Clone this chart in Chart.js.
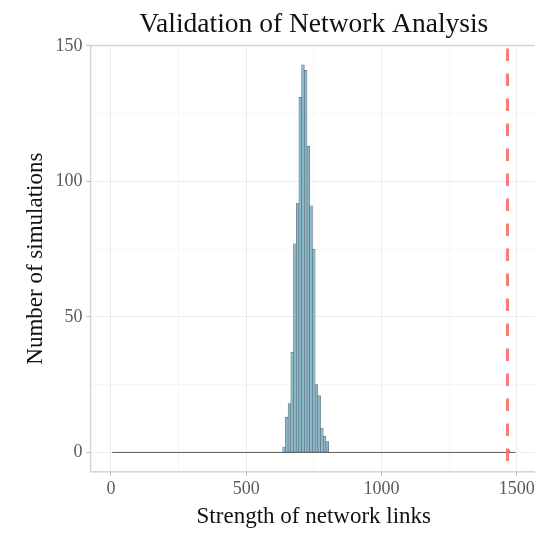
<!DOCTYPE html>
<html>
<head>
<meta charset="utf-8">
<script src="https://cdn.jsdelivr.net/npm/chart.js@4.4.1/dist/chart.umd.min.js"></script>
<style>
  html, body { margin: 0; padding: 0; background: #fff; overflow: hidden; }
  #wrap { width: 535px; height: 533px; overflow: hidden; }
  canvas { display: block; }
</style>
</head>
<body>
<div id="wrap"><canvas id="hist" width="545" height="533"></canvas></div>
<script>
// histogram of simulated link strengths (bin width 10)
const binCenters = [640, 650, 660, 670, 680, 690, 700, 710, 720, 730, 740, 750, 760, 770, 780, 790, 800];
const simCounts = [2, 13, 18, 37, 77, 92, 131, 143, 141, 113, 91, 75, 25, 21, 9, 6, 4];
// the one bin holding the observed network
const observedBin = [1470];
const observedCount = [1];
// empty bins drawn as a flat outline along zero
const emptyRange = [5, 1495];
const observedStrength = 1466;

const xMajor = [0, 500, 1000, 1500];
const xMinor = [250, 750, 1250];
const yMajor = [0, 50, 100, 150];
const yMinor = [25, 75, 125];

const serif = "'Liberation Serif', 'DejaVu Serif', serif";

const histData = binCenters.map((x, i) => ({x: x, y: simCounts[i]}))
    .concat(observedBin.map((x, i) => ({x: x, y: observedCount[i]})));
const zeroLine = emptyRange.map(x => ({x: x, y: 0}));

const toTicks = (major, minor) => major.concat(minor).sort((a, b) => a - b).map(v => ({value: v}));

const panelBorder = {
    id: 'panelBorder',
    beforeDatasetsDraw(chart) {
        const {ctx, chartArea} = chart;
        ctx.save();
        ctx.strokeStyle = '#d4d4d4';
        ctx.lineWidth = 1.5;
        ctx.strokeRect(chartArea.left, chartArea.top, chartArea.right - chartArea.left, chartArea.bottom - chartArea.top);
        ctx.restore();
    }
};

const observedLine = {
    id: 'observedLine',
    afterDatasetsDraw(chart) {
        const {ctx, chartArea} = chart;
        const x = chart.scales.x.getPixelForValue(observedStrength);
        ctx.save();
        ctx.beginPath();
        ctx.rect(chartArea.left, chartArea.top, chartArea.right - chartArea.left, chartArea.bottom - chartArea.top);
        ctx.clip();
        ctx.strokeStyle = 'rgba(248, 110, 105, 0.9)';
        ctx.lineWidth = 3;
        ctx.setLineDash([12.5, 12.5]);
        ctx.lineDashOffset = 22;
        ctx.beginPath();
        ctx.moveTo(x, chartArea.top);
        ctx.lineTo(x, chartArea.bottom);
        ctx.stroke();
        ctx.restore();
    }
};

const ctx = document.getElementById('hist').getContext('2d');
new Chart(ctx, {
    type: 'bar',
    data: {
        datasets: [{
            type: 'line',
            data: zeroLine,
            borderColor: '#5a5a5a',
            borderWidth: 1,
            pointRadius: 0,
            order: 2,
        }, {
            type: 'bar',
            data: histData,
            backgroundColor: '#8cb9ca',
            borderColor: '#5b6b72',
            borderWidth: 0.6,
            borderSkipped: false,
            barPercentage: 1,
            categoryPercentage: 1,
            order: 1,
        }],
    },
    options: {
        responsive: false,
        animation: false,
        layout: {padding: {left: 12, right: 8, top: 0, bottom: 2}},
        plugins: {
            legend: {display: false},
            tooltip: {enabled: false},
            title: {
                display: true,
                text: 'Validation of Network Analysis',
                fullSize: false,
                color: '#111',
                font: {family: serif, size: 27.5, weight: 'normal'},
                padding: {top: 8.5, bottom: 4},
            },
        },
        scales: {
            x: {
                type: 'linear',
                min: -75,
                max: 1575,
                offset: false,
                afterBuildTicks: s => { s.ticks = toTicks(xMajor, xMinor); },
                ticks: {
                    autoSkip: false,
                    maxRotation: 0,
                    padding: 3,
                    color: '#5a5a5a',
                    font: {family: serif, size: 18},
                    callback: v => xMajor.includes(v) ? String(v) : '',
                },
                grid: {
                    offset: false,
                    color: c => xMajor.includes(c.tick.value) ? '#ececec' : '#f6f6f6',
                    tickColor: c => xMajor.includes(c.tick.value) ? '#b3b3b3' : 'rgba(0,0,0,0)',
                    tickLength: 4,
                    lineWidth: 1,
                },
                border: {display: false},
                title: {
                    display: true,
                    text: 'Strength of network links',
                    color: '#111',
                    font: {family: serif, size: 23},
                    padding: {top: 0, bottom: 0},
                },
            },
            y: {
                type: 'linear',
                min: -7.15,
                max: 150.15,
                afterBuildTicks: s => { s.ticks = toTicks(yMajor, yMinor); },
                ticks: {
                    autoSkip: false,
                    padding: 4,
                    color: '#5a5a5a',
                    font: {family: serif, size: 18},
                    callback: v => yMajor.includes(v) ? String(v) : '',
                },
                grid: {
                    color: c => yMajor.includes(c.tick.value) ? '#ececec' : '#f6f6f6',
                    tickColor: c => yMajor.includes(c.tick.value) ? '#b3b3b3' : 'rgba(0,0,0,0)',
                    tickLength: 4,
                    lineWidth: 1,
                },
                border: {display: false},
                title: {
                    display: true,
                    text: 'Number of simulations',
                    color: '#111',
                    font: {family: serif, size: 23},
                    padding: {top: 10, bottom: 2},
                },
            },
        },
    },
    plugins: [panelBorder, observedLine],
});
</script>
</body>
</html>
